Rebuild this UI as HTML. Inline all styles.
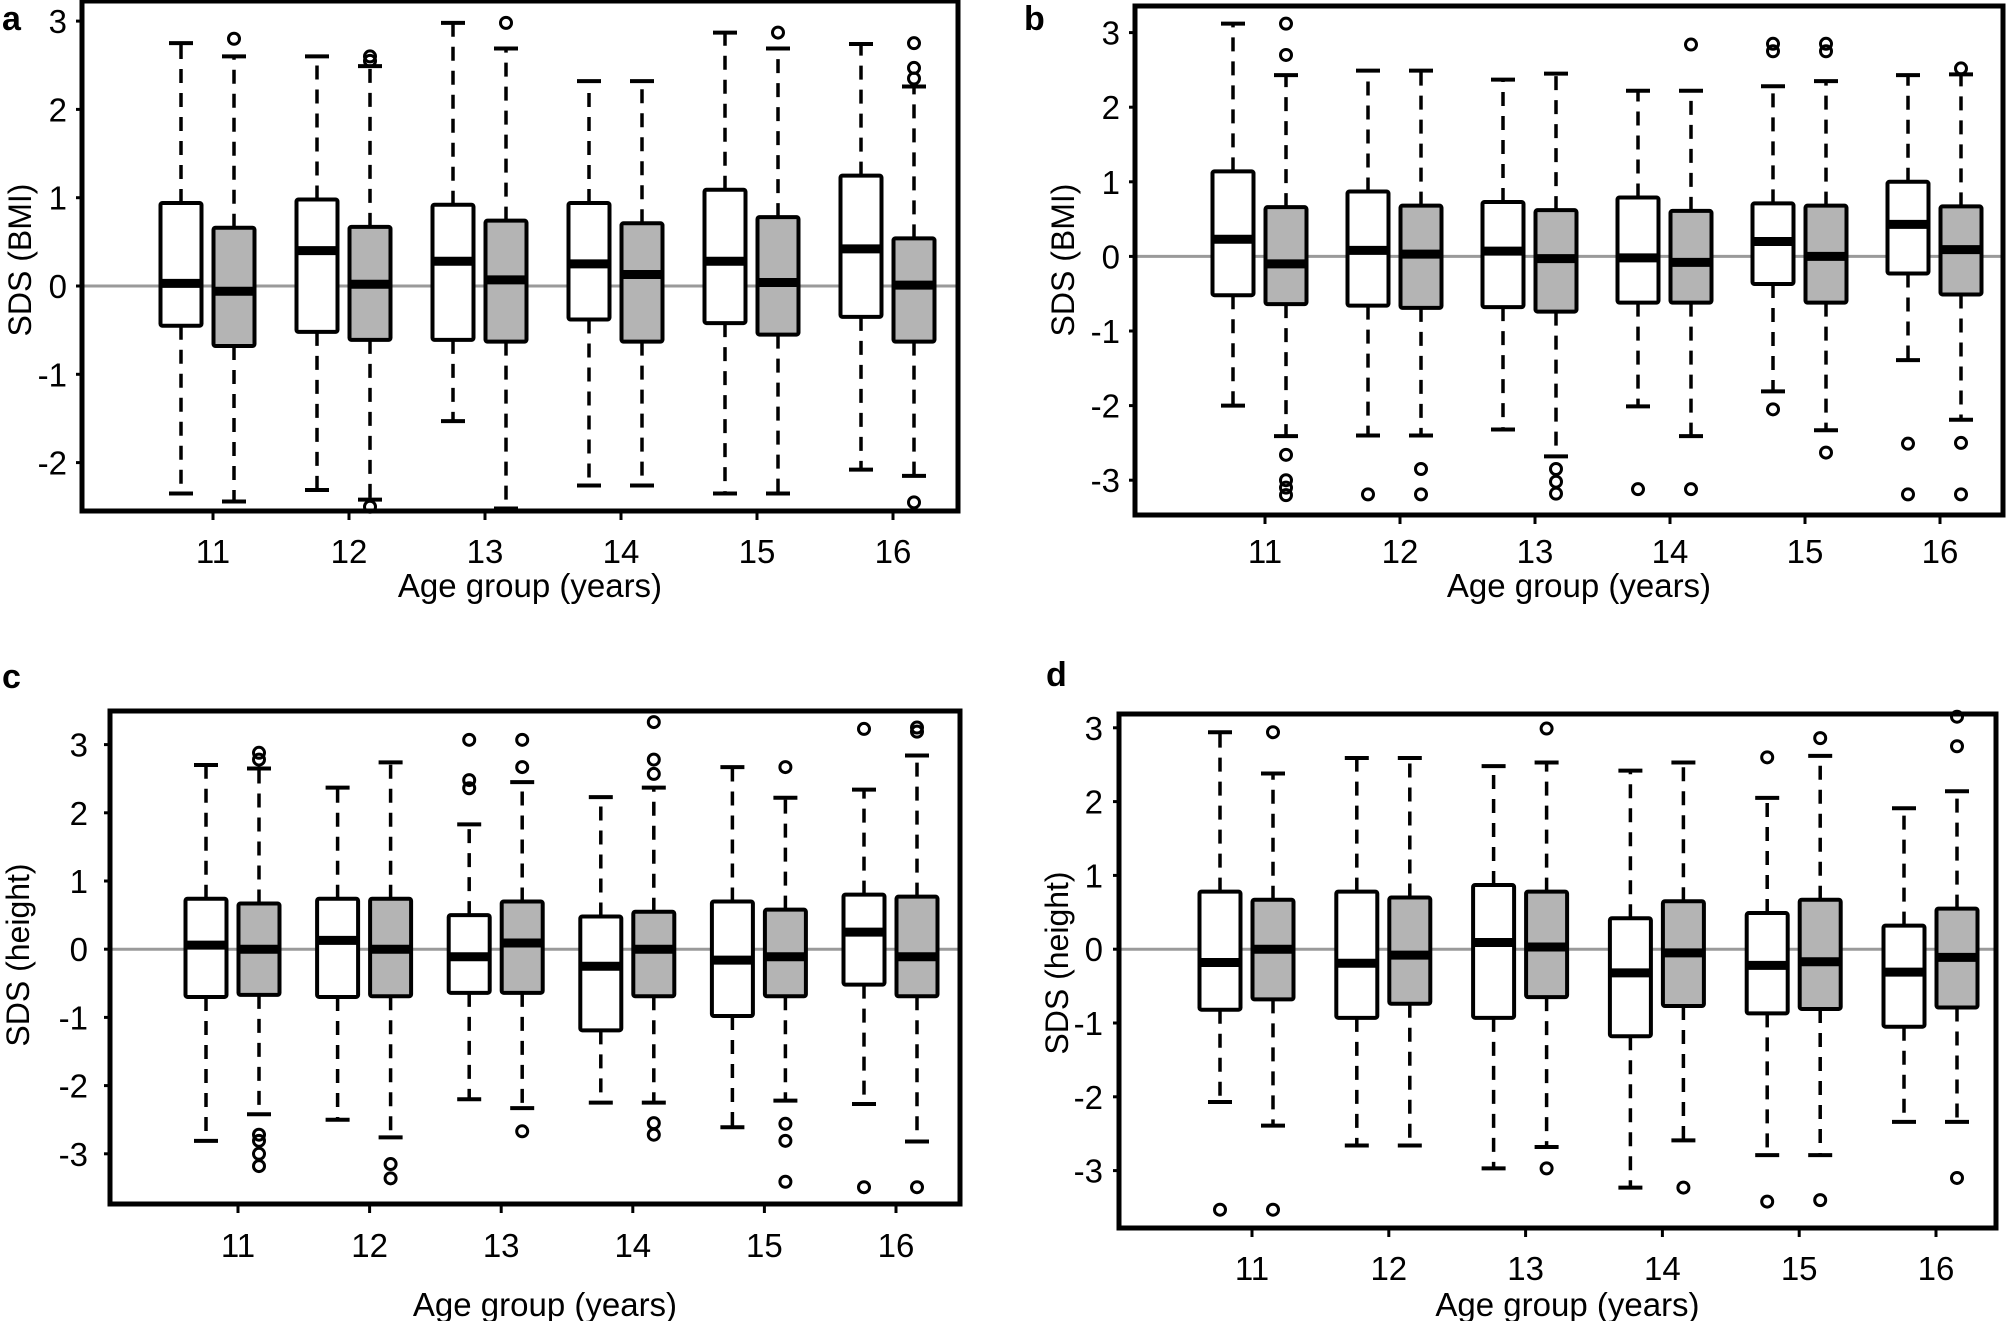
<!DOCTYPE html>
<html><head><meta charset="utf-8"><style>
html,body{margin:0;padding:0;background:#fff;}
svg{display:block;font-family:"Liberation Sans",Arial,sans-serif;}
</style></head><body>
<svg id="chart" width="2008" height="1321" viewBox="0 0 2008 1321" xmlns="http://www.w3.org/2000/svg"></svg>
<script>
// Categories
const ageGroups = ["11","12","13","14","15","16"];
// Panel a: SDS (BMI) — [lo, q1, median, q3, hi]
const aWhite = [[-2.35,-0.45,0.03,0.94,2.75],[-2.31,-0.52,0.40,0.98,2.60],[-1.53,-0.61,0.28,0.92,2.98],[-2.26,-0.38,0.25,0.94,2.32],[-2.35,-0.42,0.28,1.09,2.87],[-2.08,-0.35,0.42,1.25,2.74]];
const aGray  = [[-2.44,-0.68,-0.06,0.66,2.60],[-2.42,-0.61,0.02,0.67,2.49],[-2.52,-0.63,0.07,0.74,2.69],[-2.26,-0.63,0.13,0.71,2.32],[-2.35,-0.55,0.04,0.78,2.69],[-2.15,-0.63,0.01,0.54,2.26]];
const aWhiteOut = [[],[],[],[],[],[]];
const aGrayOut  = [[2.80],[2.60,2.55,-2.50],[2.98],[],[2.87],[2.75,2.47,2.35,-2.45]];
// Panel b: SDS (BMI)
const bWhite = [[-2.00,-0.52,0.23,1.14,3.12],[-2.40,-0.66,0.08,0.87,2.49],[-2.32,-0.68,0.07,0.73,2.37],[-2.01,-0.62,-0.02,0.79,2.22],[-1.81,-0.37,0.20,0.71,2.28],[-1.39,-0.23,0.43,1.00,2.43]];
const bGray  = [[-2.41,-0.64,-0.10,0.66,2.43],[-2.40,-0.69,0.03,0.68,2.49],[-2.68,-0.74,-0.03,0.62,2.45],[-2.41,-0.62,-0.08,0.61,2.22],[-2.33,-0.62,0.00,0.68,2.35],[-2.19,-0.51,0.09,0.67,2.44]];
const bWhiteOut = [[],[-3.19],[],[-3.12],[2.85,2.75,-2.05],[-2.51,-3.19]];
const bGrayOut  = [[3.12,2.70,-2.66,-3.00,-3.10,-3.20],[-2.85,-3.19],[-2.85,-3.02,-3.18],[2.84,-3.12],[2.85,2.75,-2.63],[2.52,-2.50,-3.19]];
// Panel c: SDS (height)
const cWhite = [[-2.81,-0.70,0.06,0.74,2.70],[-2.50,-0.70,0.13,0.74,2.37],[-2.20,-0.64,-0.11,0.50,1.83],[-2.25,-1.19,-0.25,0.48,2.23],[-2.61,-0.98,-0.16,0.70,2.67],[-2.27,-0.52,0.25,0.80,2.34]];
const cGray  = [[-2.42,-0.67,0.00,0.67,2.65],[-2.76,-0.69,0.00,0.74,2.74],[-2.33,-0.64,0.09,0.70,2.45],[-2.25,-0.69,0.00,0.55,2.37],[-2.22,-0.69,-0.11,0.58,2.22],[-2.82,-0.69,-0.11,0.77,2.84]];
const cWhiteOut = [[],[],[3.07,2.48,2.36],[],[],[3.23,-3.49]];
const cGrayOut  = [[2.88,2.78,-2.72,-2.81,-3.00,-3.18],[-3.15,-3.36],[3.07,2.67,-2.67],[3.33,2.78,2.57,-2.55,-2.72],[2.67,-2.56,-2.81,-3.41],[3.25,3.19,-3.49]];
// Panel d: SDS (height)
const dWhite = [[-2.07,-0.82,-0.18,0.78,2.94],[-2.66,-0.93,-0.19,0.78,2.59],[-2.97,-0.93,0.09,0.87,2.48],[-3.23,-1.18,-0.32,0.42,2.42],[-2.79,-0.87,-0.22,0.49,2.05],[-2.34,-1.05,-0.31,0.32,1.91]];
const dGray  = [[-2.39,-0.68,0.00,0.67,2.38],[-2.66,-0.74,-0.08,0.70,2.59],[-2.68,-0.65,0.03,0.78,2.53],[-2.59,-0.77,-0.05,0.65,2.53],[-2.79,-0.81,-0.17,0.67,2.62],[-2.34,-0.79,-0.11,0.55,2.14]];
const dWhiteOut = [[-3.53],[],[],[],[2.60,-3.42],[]];
const dGrayOut  = [[2.94,-3.53],[],[2.99,-2.97],[-3.23],[2.86,-3.40],[3.15,2.75,-3.10]];
// Y tick labels
const aTicks = [-2,-1,0,1,2,3];
const bTicks = [-3,-2,-1,0,1,2,3];
const cTicks = [-3,-2,-1,0,1,2,3];
const dTicks = [-3,-2,-1,0,1,2,3];

const NS = "http://www.w3.org/2000/svg";
const svg = document.getElementById("chart");
function mk(tag, attrs, parent){const e=document.createElementNS(NS,tag);for(const k in attrs)e.setAttribute(k,attrs[k]);(parent||svg).appendChild(e);return e;}

const panels = [
 {id:"a",white:aWhite,gray:aGray,wo:aWhiteOut,go:aGrayOut,ticks:aTicks,ylab:"SDS (BMI)",
  x11:213,step:136,y0:286,ppu:88.3,fl:82,fr:958,ft:1,fb:511,tlx:67,xly:551,xtly:585,ylx:20,yly:260,lx:2,ly:30},
 {id:"b",white:bWhite,gray:bGray,wo:bWhiteOut,go:bGrayOut,ticks:bTicks,ylab:"SDS (BMI)",
  x11:1265,step:135,y0:256.4,ppu:74.6,fl:1135,fr:2003,ft:6,fb:515,tlx:1120,xly:551,xtly:585,ylx:1063,yly:260,lx:1024,ly:30},
 {id:"c",white:cWhite,gray:cGray,wo:cWhiteOut,go:cGrayOut,ticks:cTicks,ylab:"SDS (height)",
  x11:238,step:131.6,y0:949.2,ppu:68.2,fl:110,fr:960,ft:711,fb:1204,tlx:88,xly:1245,xtly:1304,ylx:18,yly:955,lx:2,ly:688},
 {id:"d",white:dWhite,gray:dGray,wo:dWhiteOut,go:dGrayOut,ticks:dTicks,ylab:"SDS (height)",
  x11:1252,step:136.8,y0:949.2,ppu:73.8,fl:1119,fr:1996,ft:714,fb:1228,tlx:1103,xly:1268,xtly:1304,ylx:1057,yly:963,lx:1046,ly:686}
];

panels.forEach(p=>{
  const g = mk("g",{});
  
  
  const yS = v => p.y0 - v*p.ppu;
  const xS = i => p.x11 + i*p.step;
  const lt = mk("text",{x:p.lx,y:p.ly,"font-size":34,"font-weight":"bold",fill:"#000"},g);
  lt.textContent = p.id;
  
  
  const zl = mk("line",{x1:p.fl,x2:p.fr,y1:yS(0),y2:yS(0),stroke:"#9a9a9a","stroke-width":3},g);
  
  
  p.ticks.forEach(t=>{
    const y=yS(t);
    mk("line",{x1:p.fl-6,x2:p.fl,y1:y,y2:y,stroke:"#000","stroke-width":3},g);
    const tx=mk("text",{x:p.tlx,y:y+12,"font-size":33,"text-anchor":"end",fill:"#000"},g);
    tx.textContent=String(t);
    
    
  });
  ageGroups.forEach((c,i)=>{
    const x=xS(i);
    mk("line",{x1:x,x2:x,y1:p.fb,y2:p.fb+9,stroke:"#000","stroke-width":3},g);
    const tx=mk("text",{x:x,y:p.xly+12,"font-size":33,"text-anchor":"middle",fill:"#000"},g);
    tx.textContent=c;
    
    
  });
  const xt=mk("text",{x:(p.fl+p.fr)/2+10,y:p.xtly+12,"font-size":33,"text-anchor":"middle",fill:"#000"},g);
  xt.textContent="Age group (years)";
  
  
  const yt=mk("text",{x:0,y:0,"font-size":32,"text-anchor":"middle",fill:"#000",transform:`translate(${p.ylx+11},${p.yly}) rotate(-90)`},g);
  yt.textContent=p.ylab;
  
  
  const drawBox=(s,cx,fill,outs,name)=>{
    const bg=mk("g",{},g);
    
    
    const [lo,q1,md,q3,hi]=s;
    const w=41, cw=24;
    mk("line",{x1:cx,x2:cx,y1:yS(q3),y2:yS(hi),stroke:"#000","stroke-width":3.5,"stroke-dasharray":"14 10"},bg);
    mk("line",{x1:cx,x2:cx,y1:yS(q1),y2:yS(lo),stroke:"#000","stroke-width":3.5,"stroke-dasharray":"14 10"},bg);
    mk("line",{x1:cx-cw/2,x2:cx+cw/2,y1:yS(hi),y2:yS(hi),stroke:"#000","stroke-width":4},bg);
    mk("line",{x1:cx-cw/2,x2:cx+cw/2,y1:yS(lo),y2:yS(lo),stroke:"#000","stroke-width":4},bg);
    mk("rect",{x:cx-w/2,y:yS(q3),width:w,height:yS(q1)-yS(q3),fill:fill,stroke:"#000","stroke-width":4,rx:2},bg);
    mk("line",{x1:cx-w/2,x2:cx+w/2,y1:yS(md),y2:yS(md),stroke:"#000","stroke-width":9},bg);
    outs.forEach(o=>{
      const c=mk("circle",{cx:cx,cy:yS(o),r:5.5,fill:"none",stroke:"#000","stroke-width":3},bg);
      
      
    });
  };
  ageGroups.forEach((c,i)=>{
    drawBox(p.white[i],xS(i)-32,"#fff",p.wo[i],'box-group1-age'+c);
    drawBox(p.gray[i],xS(i)+21,"#b4b4b4",p.go[i],'box-group2-age'+c);
  });
  const fr=mk("rect",{x:p.fl,y:p.ft,width:p.fr-p.fl,height:p.fb-p.ft,fill:"none",stroke:"#000","stroke-width":5},g);
  
  
});
</script>
</body></html>
